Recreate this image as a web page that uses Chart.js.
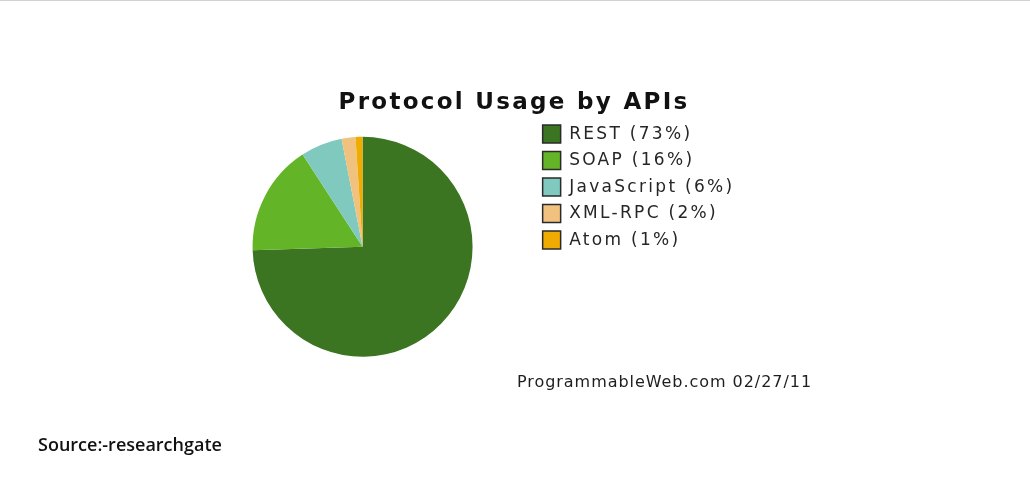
<!DOCTYPE html>
<html>
<head>
<meta charset="utf-8">
<title>Protocol Usage by APIs</title>
<script src="https://cdn.jsdelivr.net/npm/chart.js@4.4.1/dist/chart.umd.min.js"></script>
<style>
  html, body { margin: 0; padding: 0; background: #fff; }
  body { width: 1030px; height: 481px; position: relative; overflow: hidden; }
  .top-rule { position: absolute; left: 0; top: 0; width: 1030px; height: 1px; background: #d2d2d2; }
  #apiPie { position: absolute; left: 0; top: 0; }
  .credit { position: absolute; left: 517px; top: 372px; font: 16px "DejaVu Sans"; letter-spacing: 0.95px; color: #1e1e1e; white-space: nowrap; }
  .source { position: absolute; left: 38px; top: 432px; font: 600 18px "Open Sans"; color: #111; white-space: nowrap; }
</style>
</head>
<body>
<div class="top-rule"></div>
<canvas id="apiPie" width="1030" height="481"></canvas>
<div class="credit">ProgrammableWeb.com 02/27/11</div>
<div class="source">Source:-researchgate</div>

<script>
// data
const protocols = ["REST", "SOAP", "JavaScript", "XML-RPC", "Atom"];
const sharePct = [73, 16, 6, 2, 1];
const sliceColors = ["#3b7521", "#63b527", "#7fc9bf", "#f1c27e", "#f0ab00"];

const TITLE_CENTER_X = 514;

// the old chart used a wide font, so spread the canvas text a bit
// and put the title back over the middle of the picture
const textSpacing = {
  id: "textSpacing",
  beforeLayout(chart) {
    chart.ctx.letterSpacing = "2.3px";
  },
  afterLayout(chart) {
    const t = chart.titleBlock;
    const half = (t.right - t.left) / 2;
    t.left = TITLE_CENTER_X - half;
    t.right = TITLE_CENTER_X + half;
  },
  beforeDraw(chart) {
    chart.ctx.letterSpacing = "2.3px";
  },
};

const pieDefaults = Chart.overrides.pie || Chart.overrides.doughnut;

new Chart(document.getElementById("apiPie"), {
  type: "pie",
  data: {
    labels: protocols.map((name, i) => `${name} (${sharePct[i]}%)`),
    datasets: [
      {
        data: sharePct,
        backgroundColor: sliceColors,
        borderWidth: 0,
        hoverOffset: 0,
        radius: 110,
        clip: false,
      },
    ],
  },
  options: {
    responsive: false,
    animation: false,
    events: [],
    layout: { padding: { left: 191, right: 285.5, top: 0, bottom: 104 } },
    plugins: {
      title: {
        display: true,
        text: "Protocol Usage by APIs",
        color: "#111",
        font: { family: "DejaVu Sans", size: 23, weight: "bold" },
        padding: { top: 89, bottom: 0 },
      },
      legend: {
        position: "right",
        align: "start",
        fullSize: false,
        labels: {
          boxWidth: 18,
          boxHeight: 18,
          padding: 8.5,
          color: "#262626",
          font: { family: "DejaVu Sans", size: 17 },
          generateLabels(chart) {
            return pieDefaults.plugins.legend.labels
              .generateLabels(chart)
              .map((item) => ({ ...item, strokeStyle: "#2b2b2b", lineWidth: 1.5 }));
          },
        },
      },
      tooltip: { enabled: false },
    },
  },
  plugins: [textSpacing],
});
</script>
</body>
</html>
